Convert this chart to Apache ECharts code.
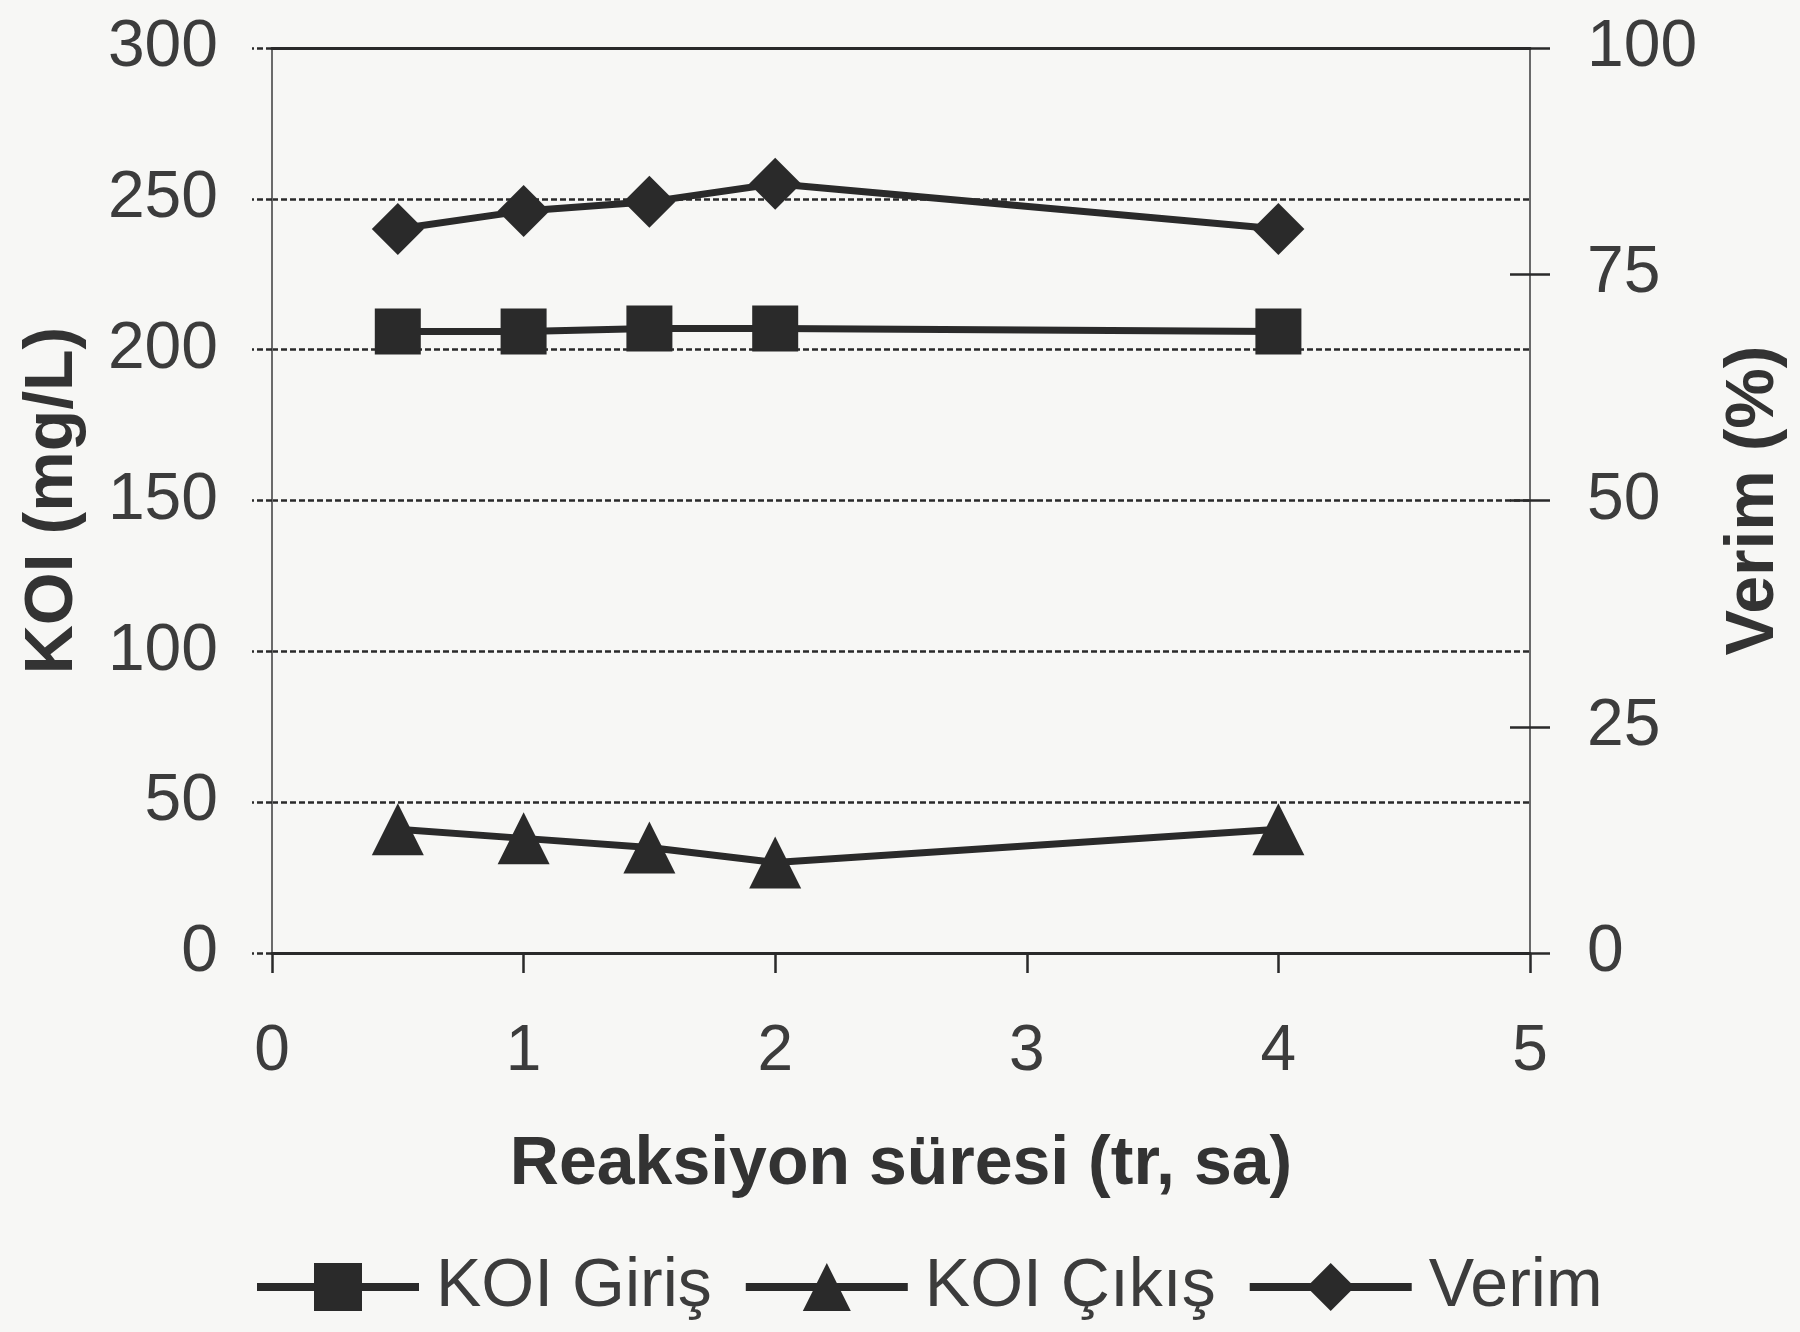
<!DOCTYPE html>
<html>
<head>
<meta charset="utf-8">
<script src="https://cdn.jsdelivr.net/npm/echarts@6/dist/echarts.min.js"></script>
<style>
html,body{margin:0;padding:0;background:#f7f7f5;}
#c{width:1800px;height:1332px;}
</style>
</head>
<body>
<div id="c"></div>
<script>
const xValues = [0.5, 1, 1.5, 2, 4];
const koiGiris = [206, 206, 207, 207, 206];
const koiCikis = [41, 38, 35, 30, 41];
const verim = [80, 82, 83, 85, 80];
const seriesNames = ['KOI Giriş', 'KOI Çıkış', 'Verim'];
const xAxisName = 'Reaksiyon süresi (tr, sa)';
const leftAxisName = 'KOI (mg/L)';
const rightAxisName = 'Verim (%)';

const dark = '#2a2a2a';
const txt = '#3c3c3c';
const font = 'Liberation Sans';
const gridRect = {left: 272, right: 270, top: 48, bottom: 379, containLabel: false};

function pts(ys){ return xValues.map((x,i)=>[x, ys[i]]); }

const chart = echarts.init(document.getElementById('c'));
chart.setOption({
  backgroundColor: '#f7f7f5',
  animation: false,
  textStyle: {fontFamily: font},
  grid: [gridRect, Object.assign({}, gridRect)],
  legend: {
    left: 248, top: 1248,
    itemWidth: 162, itemHeight: 60, itemGap: 30,
    data: seriesNames,
    textStyle: {fontSize: 68, color: txt, fontFamily: font, padding: [0,0,0,12]},
    lineStyle: {width: 8}
  },
  xAxis: [{
    gridIndex: 0, type: 'value', min: 0, max: 5, interval: 1, position: 'bottom',
    axisLine: {show: true, onZero: false, lineStyle: {color: dark, width: 3}},
    axisTick: {show: true, inside: false, length: 20, lineStyle: {color: dark, width: 2.5}},
    axisLabel: {fontSize: 64, color: txt, margin: 67, fontFamily: font},
    splitLine: {show: false},
    name: xAxisName, nameLocation: 'middle', nameGap: 178,
    nameTextStyle: {fontSize: 68, fontWeight: 'bold', color: '#333', fontFamily: font}
  }, {
    gridIndex: 0, type: 'value', min: 0, max: 5, interval: 1, position: 'top',
    axisLine: {show: true, onZero: false, lineStyle: {color: dark, width: 3}},
    axisTick: {show: false}, axisLabel: {show: false}, splitLine: {show: false}
  }, {
    gridIndex: 1, type: 'value', min: 0, max: 5, interval: 1, show: false
  }],
  yAxis: [{
    gridIndex: 0, type: 'value', min: 0, max: 300, interval: 50, position: 'left',
    axisLine: {show: true, onZero: false, lineStyle: {color: '#6a6a6a', width: 2}},
    axisTick: {show: true, inside: false, length: 20, lineStyle: {color: dark, width: 2.5, type: [6,3]}},
    axisLabel: {fontSize: 66, color: txt, margin: 54, fontFamily: font},
    splitLine: {show: true, lineStyle: {color: dark, width: 2.5, type: [6,3]}},
    name: leftAxisName, nameLocation: 'middle', nameRotate: 90, nameGap: 185,
    nameTextStyle: {fontSize: 68, fontWeight: 'bold', color: '#333', fontFamily: font}
  }, {
    gridIndex: 0, type: 'value', min: 0, max: 100, interval: 25, position: 'right',
    axisLine: {show: true, onZero: false, lineStyle: {color: '#6a6a6a', width: 2}},
    axisTick: {show: true, inside: false, length: 20, lineStyle: {color: dark, width: 2.5}},
    axisLabel: {fontSize: 66, color: txt, margin: 57, fontFamily: font},
    splitLine: {show: false},
    name: rightAxisName, nameLocation: 'middle', nameRotate: 90, nameGap: 190,
    nameTextStyle: {fontSize: 68, fontWeight: 'bold', color: '#333', fontFamily: font}
  }, {
    gridIndex: 1, type: 'value', min: 0, max: 100, interval: 25, position: 'right',
    axisLine: {show: false, onZero: false},
    axisTick: {show: true, inside: true, length: 20, lineStyle: {color: dark, width: 2.5}},
    axisLabel: {show: false}, splitLine: {show: false}
  }],
  series: [{
    name: seriesNames[0], type: 'line', xAxisIndex: 0, yAxisIndex: 0,
    data: pts(koiGiris), symbol: 'rect', symbolSize: 46,
    lineStyle: {color: dark, width: 7}, itemStyle: {color: dark}
  }, {
    name: seriesNames[1], type: 'line', xAxisIndex: 0, yAxisIndex: 0,
    data: pts(koiCikis), symbol: 'triangle', symbolSize: 52,
    lineStyle: {color: dark, width: 7}, itemStyle: {color: dark}
  }, {
    name: seriesNames[2], type: 'line', xAxisIndex: 0, yAxisIndex: 1,
    data: pts(verim), symbol: 'diamond', symbolSize: 52,
    lineStyle: {color: dark, width: 7}, itemStyle: {color: dark}
  }]
});
</script>
</body>
</html>
